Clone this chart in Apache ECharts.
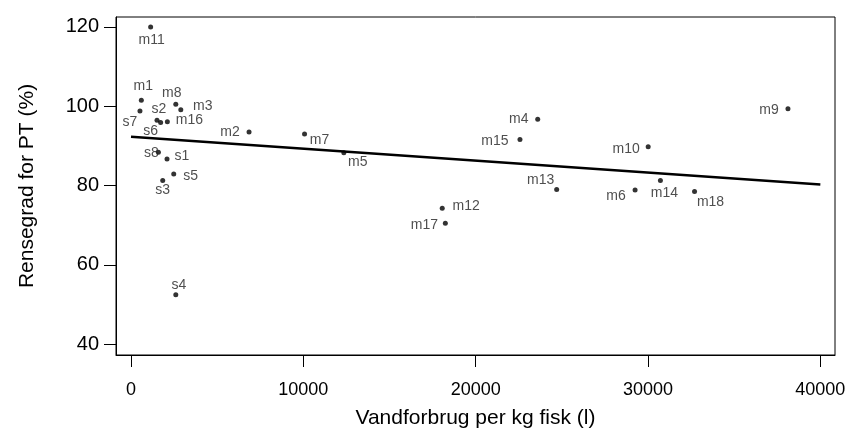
<!DOCTYPE html>
<html>
<head>
<meta charset="utf-8">
<script src="https://cdn.jsdelivr.net/npm/echarts@6/dist/echarts.min.js"></script>
<style>
  html, body { margin: 0; padding: 0; background: #fff; }
  #chart { width: 851px; height: 437px; }
</style>
</head>
<body>
<div id="chart"></div>
<script>
// Rensegrad vs. vandforbrug - scatter med regressionslinje
var names = ['m11', 'm1', 's7', 'm8', 'm3', 's2', 's6', 'm16', 'm2', 'm7', 'm5', 's8', 's1', 's5', 's3', 's4',
  'm4', 'm15', 'm13', 'm12', 'm17', 'm9', 'm10', 'm6', 'm14', 'm18'];
var water = [1140, 600, 520, 2600, 2890, 1510, 1720, 2110, 6850, 10070, 12350, 1590, 2090, 2480, 1840, 2600,
  23600, 22570, 24700, 18060, 18240, 38120, 30010, 29250, 30720, 32700];
var removal = [120.0, 101.5, 98.8, 100.5, 99.1, 96.5, 95.9, 96.1, 93.5, 93.0, 88.3, 88.4, 86.7, 82.9, 81.3, 52.5,
  96.7, 91.6, 79.0, 74.3, 70.5, 99.4, 89.8, 78.9, 81.3, 78.5];
var fitX = [0, 40000];
var fitY = [92.3, 80.3];
var xTicks = [0, 10000, 20000, 30000, 40000];
var yTicks = [40, 60, 80, 100, 120];

// label offsets (px) relative to the point
var labelOffsets = [[1, 13], [2, -14], [-10, 11], [-4, -11], [22, -4], [2, -11], [-10, 9], [22, -2], [-19, 0], [15, 6],
  [14, 9], [-7, 1], [15, -3], [17, 2], [0, 10], [3, -10], [-19, 0], [-25, 2], [-16, -9], [24, -2], [-21, 2],
  [-19, 1], [-22, 2], [-19, 6], [4, 13], [16, 11]];

var font = 'Liberation Sans, Arial, Helvetica, sans-serif';
var chart = echarts.init(document.getElementById('chart'), null, { renderer: 'canvas' });

var pts = water.map(function (x, i) {
  return {
    value: [x, removal[i]],
    name: names[i],
    label: { offset: labelOffsets[i] }
  };
});

function plain(v) { return String(v); }

chart.setOption({
  animation: false,
  backgroundColor: '#fff',
  grid: { left: 116, right: 16, top: 17, bottom: 82, show: true, borderColor: '#000', borderWidth: 1 },
  xAxis: {
    type: 'value', min: -870, max: 40850,
    name: 'Vandforbrug per kg fisk (l)', nameLocation: 'middle', nameGap: 53,
    nameTextStyle: { color: '#000', fontSize: 21, fontFamily: font },
    axisLine: { show: true, onZero: false, lineStyle: { color: '#000' } },
    axisTick: { show: true, customValues: xTicks, length: 12, lineStyle: { color: '#000' } },
    axisLabel: { customValues: xTicks, formatter: plain, color: '#000', fontSize: 18, fontFamily: font, margin: 26 },
    splitLine: { show: false }
  },
  yAxis: {
    type: 'value', min: 37.3, max: 122.5,
    name: 'Rensegrad for PT (%)', nameLocation: 'middle', nameGap: 78,
    nameTextStyle: { color: '#000', fontSize: 21, fontFamily: font },
    axisLine: { show: true, onZero: false, lineStyle: { color: '#000' } },
    axisTick: { show: true, customValues: yTicks, length: 12, lineStyle: { color: '#000' } },
    axisLabel: { customValues: yTicks, formatter: plain, color: '#000', fontSize: 20, fontFamily: font, margin: 17 },
    splitLine: { show: false }
  },
  series: [
    {
      type: 'line', data: fitX.map(function (x, i) { return [x, fitY[i]]; }),
      symbol: 'none', lineStyle: { color: '#000', width: 2.5 }, z: 2
    },
    {
      type: 'scatter', data: pts, symbol: 'circle', symbolSize: 5,
      itemStyle: { color: '#000' }, z: 3,
      label: {
        show: true, position: 'inside', formatter: '{b}',
        color: '#222', fontSize: 14, fontFamily: font
      }
    }
  ]
});
</script>
</body>
</html>
